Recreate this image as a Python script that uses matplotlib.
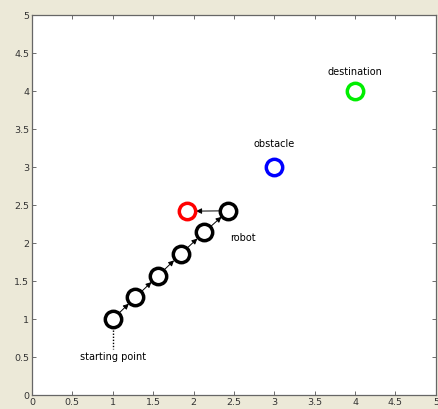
import matplotlib
matplotlib.use("Agg")
import matplotlib.pyplot as plt

# robot path (black), next step (red), obstacle and destination
path_x = [1.0, 1.28, 1.56, 1.84, 2.13, 2.43]
path_y = [1.0, 1.285, 1.57, 1.855, 2.14, 2.425]
next_x, next_y = 1.92, 2.42
obstacle = (3.0, 3.0)
destination = (4.0, 4.0)
ticks = [0, 0.5, 1, 1.5, 2, 2.5, 3, 3.5, 4, 4.5, 5]
tick_labels = ["0", "0.5", "1", "1.5", "2", "2.5", "3", "3.5", "4", "4.5", "5"]

fig = plt.figure(figsize=(4.38, 4.09), dpi=100, facecolor="#ece9d8")
ax = fig.add_axes([0.073, 0.034, 0.922, 0.929])
ax.set_xlim(0, 5)
ax.set_ylim(0, 5)

ms = 11.8
mew = 2.5

# arrows between consecutive robot positions
pts = list(zip(path_x, path_y)) + [(next_x, next_y)]
for (x0, y0), (x1, y1) in zip(pts[:-1], pts[1:]):
    ax.annotate("", xy=(x1, y1), xytext=(x0, y0),
                arrowprops=dict(arrowstyle="-|>", color="black", lw=0.7,
                                mutation_scale=8, shrinkA=6.5, shrinkB=6.5),
                zorder=2)

ax.plot(path_x, path_y, linestyle="none", marker="o", ms=ms, mfc="none",
        mec="black", mew=mew, zorder=3)
ax.plot([next_x], [next_y], linestyle="none", marker="o", ms=ms, mfc="none",
        mec="red", mew=mew, zorder=3)
ax.plot([obstacle[0]], [obstacle[1]], linestyle="none", marker="o", ms=ms,
        mfc="none", mec="blue", mew=mew, zorder=3)
ax.plot([destination[0]], [destination[1]], linestyle="none", marker="o",
        ms=ms, mfc="none", mec="#00ee00", mew=mew, zorder=3)

# dotted leader to the start label
ax.plot([1.0, 1.0], [0.86, 0.6], color="black", lw=1.0, linestyle=(0, (1, 1.2)))

fs = 7
ax.text(1.0, 0.5, "starting point", ha="center", va="center", fontsize=fs)
ax.text(2.61, 2.07, "robot", ha="center", va="center", fontsize=fs)
ax.text(3.0, 3.3, "obstacle", ha="center", va="center", fontsize=fs)
ax.text(4.0, 4.25, "destination", ha="center", va="center", fontsize=fs)

ax.set_xticks(ticks)
ax.set_xticklabels(tick_labels)
ax.set_yticks(ticks)
ax.set_yticklabels(tick_labels)
ax.tick_params(direction="in", length=3, width=0.6, colors="#555555",
               labelsize=6.8, labelcolor="#333333", top=True, right=True, pad=2)
for s in ax.spines.values():
    s.set_color("#666666")
    s.set_linewidth(0.9)

fig.savefig("out.png", dpi=100, facecolor=fig.get_facecolor())
